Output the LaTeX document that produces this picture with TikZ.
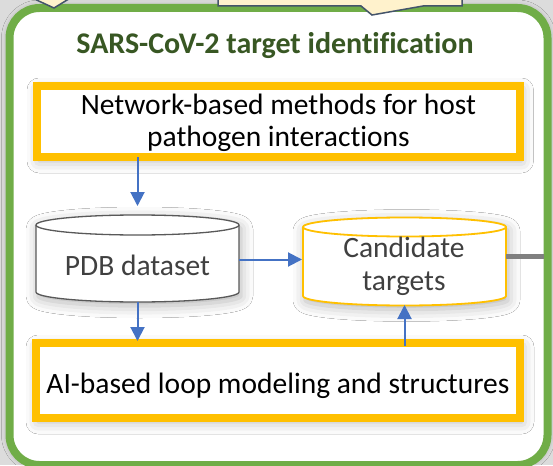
\documentclass[tikz,border=0pt]{standalone}
\usepackage{fontspec}
\setmainfont{Carlito}[Ligatures=NoCommon]
\usetikzlibrary{shadows.blur,arrows.meta,calc}
\definecolor{bggray}{RGB}{220,220,220}
\definecolor{framegreen}{RGB}{112,173,71}
\definecolor{titlegreen}{RGB}{56,87,35}
\definecolor{gold}{RGB}{255,192,0}
\definecolor{arrowblue}{RGB}{68,114,196}
\definecolor{calloutfill}{RGB}{255,242,204}
\definecolor{calloutline}{RGB}{68,84,106}
\definecolor{darktext}{RGB}{64,64,64}
\definecolor{cylgray}{RGB}{89,89,89}
\definecolor{bargray}{RGB}{128,128,128}
\begin{document}
\begin{tikzpicture}[x=1pt,y=-1pt,
  every node/.style={inner sep=0pt, outer sep=0pt},
  softshadow/.style={blur shadow={shadow xshift=2pt, shadow yshift=-4pt,
      shadow blur radius=12pt, shadow opacity=30}},
  goldbox/.style={draw=gold, line width=8pt, fill=white, softshadow},
  bodytext/.style={font=\fontsize{29.5}{32}\selectfont, text=black},
  cyltext/.style={font=\fontsize{29.5}{33}\selectfont, text=darktext},
  flow/.style={draw=arrowblue, line width=2pt,
      -{Triangle[length=14pt,width=14pt]}},
  callout/.style={fill=calloutfill, draw=calloutline, line width=1.5pt,
      line join=miter},
]
\useasboundingbox (0,0) rectangle (553,465);
\fill[bggray] (0,0) rectangle (553,465);

% green frame of the stage
\node[draw=framegreen, line width=8pt, fill=white, rounded corners=30pt,
  minimum width=538pt, minimum height=457pt,
  blur shadow={shadow xshift=0pt, shadow yshift=0pt, shadow blur radius=8pt,
    shadow opacity=30}] (frame) at (278.5,236.5) {};

% callouts of the stage above, cut by the top edge
\path[callout] (30,-3) -- (54,8) -- (72,-3);
\path[callout] (218,-5) -- (218,6) -- (361,6) -- (372,15) -- (423,6)
  -- (462,6) -- (462,-5) -- cycle;

\node[font=\bfseries\fontsize{30}{34}\selectfont, text=titlegreen,
  anchor=base] (title) at (275,54) {SARS-CoV-2 target identification};

% top box
\node[goldbox, minimum width=482.5pt, minimum height=71pt] (net)
  at (278.25,121.5) {};
\node[bodytext, align=center] (nettext) at (278.5,123)
  {Network-based methods for host\\pathogen interactions};

% bottom box
\node[goldbox, minimum width=484pt, minimum height=75pt] (ai)
  at (278,380.5) {};
\node[bodytext, anchor=base] (aitext) at (278,393.4)
  {AI-based loop modeling and structures};

% PDB cylinder
\path[draw=cylgray, line width=1.3pt, fill=white, softshadow]
  (36,225) -- (36,292)
  arc[start angle=180, end angle=360, x radius=101.5pt, y radius=10pt]
  -- (239,225)
  arc[start angle=0, end angle=180, x radius=101.5pt, y radius=10pt] -- cycle;
\draw[cylgray, line width=1.3pt] (36,225)
  arc[start angle=180, end angle=360, x radius=101.5pt, y radius=10pt];
\node[minimum width=203pt, minimum height=87pt] (pdb) at (137.5,258.5) {};
\node[cyltext, anchor=base] (pdbtext) at (137.5,275) {PDB dataset};

% candidate cylinder
\path[draw=gold, line width=1.8pt, fill=white, softshadow]
  (303,227) -- (303,296)
  arc[start angle=180, end angle=360, x radius=101.5pt, y radius=9.5pt]
  -- (506,227)
  arc[start angle=0, end angle=180, x radius=101.5pt, y radius=9.5pt] -- cycle;
\draw[gold, line width=1.8pt] (303,227)
  arc[start angle=180, end angle=360, x radius=101.5pt, y radius=9.5pt];
\node[minimum width=203pt, minimum height=87.5pt] (cand) at (404.5,261.25) {};
\node[cyltext, align=center] (candtext) at (404,266)
  {Candidate\\targets};

% connectors
\draw[flow, shorten >=9pt] (net.south -| pdb.north) -- (pdb.north);
\draw[flow, shorten >=1pt] ([yshift=-1pt]pdb.east) -- ([yshift=-1pt]pdb.east -| cand.west);
\draw[flow, shorten >=2pt] (pdb.south) -- (pdb.south |- ai.north);
\draw[flow] ([yshift=-3pt]ai.north -| cand.south) -- (cand.south);
\draw[bargray, line width=5pt, shorten >=4pt]
  ([yshift=4.5pt]cand.east) -- ([yshift=4.5pt]cand.east -| frame.east);
\end{tikzpicture}
\end{document}
